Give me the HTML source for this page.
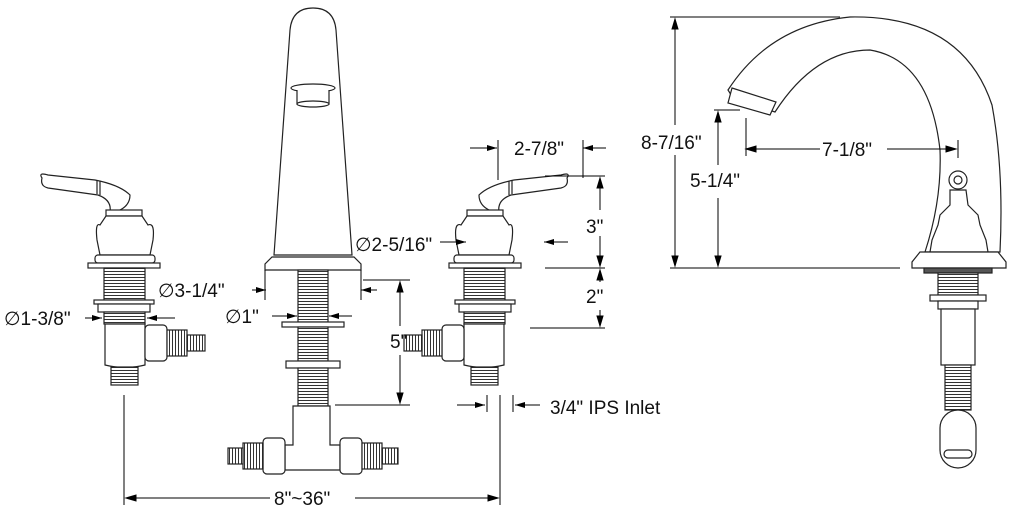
<!DOCTYPE html>
<html><head><style>
html,body{margin:0;padding:0;background:#fff;}
svg{display:block}
text{font-family:"Liberation Sans",sans-serif;font-size:19px;fill:#111}
</style></head><body>
<svg width="1019" height="527" viewBox="0 0 1019 527" xmlns="http://www.w3.org/2000/svg">
<defs>
<pattern id="th" width="4" height="3" patternUnits="userSpaceOnUse"><rect width="4" height="3" fill="#fff"/><line x1="0" y1="1.5" x2="4" y2="1.5" stroke="#333" stroke-width="1"/></pattern>
<pattern id="tv" width="3" height="4" patternUnits="userSpaceOnUse"><rect width="3" height="4" fill="#fff"/><line x1="1.5" y1="0" x2="1.5" y2="4" stroke="#333" stroke-width="1"/></pattern>
<marker id="a" markerWidth="10" markerHeight="6" refX="10" refY="3" orient="auto"><path d="M0,0 L10,3 L0,6z" fill="#000"/></marker>
</defs>
<g fill="#fff" stroke="#222" stroke-width="1.2">
<!-- LEFT VALVE -->
<path d="M42,178 Q38,172 48,175 L95,180 Q120,185 130,195 Q130,205 120,210 L110,212 Q112,200 98,195 L48,188 Q40,186 42,178z"/>
<line x1="97" y1="180" x2="97" y2="194"/><line x1="100" y1="181" x2="100" y2="195"/>
<rect x="106" y="210" width="36" height="6"/>
<path d="M100,225 Q95,222 97,240 L100,255 L150,255 L153,240 Q155,222 148,225 L142,216 L106,216z"/>
<rect x="95" y="255" width="60" height="8" rx="3"/>
<rect x="88" y="263" width="72" height="5"/>
<rect x="104" y="268" width="41" height="32" fill="url(#th)"/>
<rect x="94" y="300" width="60" height="4"/>
<rect x="98" y="304" width="52" height="8"/>
<rect x="104" y="312" width="41" height="12" fill="url(#th)"/>
<path d="M105,324 L145,324 L145,365 Q125,370 105,365z"/>
<rect x="111" y="367" width="27" height="18" fill="url(#th)"/>
<rect x="145" y="325" width="22" height="36" rx="4"/>
<rect x="167" y="330" width="20" height="26" fill="url(#tv)"/>
<rect x="187" y="335" width="18" height="16" fill="url(#tv)"/>
<!-- CENTER SPOUT -->
<path d="M290,30 Q292,8 313,8 Q334,8 336,30 L352,255 L274,255z"/>
<ellipse cx="313" cy="88" rx="22" ry="4"/>
<path d="M297,90 L297,104 Q313,109 329,104 L329,90"/>
<ellipse cx="313" cy="104" rx="16" ry="3"/>
<path d="M272,257 L354,257 L361,264 L361,270 L265,270 L265,264z"/>
<rect x="298" y="270" width="30" height="52" fill="url(#th)"/>
<rect x="282" y="322" width="62" height="5"/>
<rect x="298" y="327" width="30" height="34" fill="url(#th)"/>
<rect x="286" y="361" width="54" height="7"/>
<rect x="298" y="368" width="30" height="38" fill="url(#th)"/>
<path d="M293,406 L330,406 L330,445 L340,445 L340,470 L285,470 L285,445 L293,445z"/>
<rect x="263" y="438" width="22" height="36" rx="4"/>
<rect x="340" y="438" width="22" height="36" rx="4"/>
<rect x="243" y="443" width="20" height="26" fill="url(#tv)"/>
<rect x="228" y="448" width="15" height="16" fill="url(#tv)"/>
<rect x="362" y="443" width="20" height="26" fill="url(#tv)"/>
<rect x="382" y="448" width="16" height="16" fill="url(#tv)"/>
<!-- RIGHT VALVE (mirrored) -->
<g transform="translate(609,0) scale(-1,1)">
<path d="M42,178 Q38,172 48,175 L95,180 Q120,185 130,195 Q130,205 120,210 L110,212 Q112,200 98,195 L48,188 Q40,186 42,178z"/>
<line x1="97" y1="180" x2="97" y2="194"/><line x1="100" y1="181" x2="100" y2="195"/>
<rect x="106" y="210" width="36" height="6"/>
<path d="M100,225 Q95,222 97,240 L100,255 L150,255 L153,240 Q155,222 148,225 L142,216 L106,216z"/>
<rect x="95" y="255" width="60" height="8" rx="3"/>
<rect x="88" y="263" width="72" height="5"/>
<rect x="104" y="268" width="41" height="32" fill="url(#th)"/>
<rect x="94" y="300" width="60" height="4"/>
<rect x="98" y="304" width="52" height="8"/>
<rect x="104" y="312" width="41" height="12" fill="url(#th)"/>
<path d="M105,324 L145,324 L145,365 Q125,370 105,365z"/>
<rect x="111" y="367" width="27" height="18" fill="url(#th)"/>
<rect x="145" y="325" width="22" height="36" rx="4"/>
<rect x="167" y="330" width="20" height="26" fill="url(#tv)"/>
<rect x="187" y="335" width="18" height="16" fill="url(#tv)"/>
</g>
<!-- SIDE VIEW -->
<path d="M728,90 Q770,25 850,17 Q962,15 992,105 Q1004,170 1000,252 L925,252 Q942,200 940,150 Q930,60 870,50 Q815,50 775,112 L763,108 L733,98z"/>
<path d="M732,88 L776,102 L770,115 L728,103z"/>
<circle cx="958" cy="180" r="9"/><circle cx="958" cy="180" r="4"/>
<path d="M950,190 L966,190 L968,205 L978,215 L980,225 L986,240 L988,252 L930,252 L932,240 L938,225 L940,215 L950,205z"/>
<path d="M920,252 L998,252 L1006,262 L1006,268 L912,268 L912,262z"/>
<rect x="924" y="268" width="68" height="5" fill="#555"/>
<rect x="938" y="273" width="40" height="22" fill="url(#th)"/>
<rect x="930" y="295" width="56" height="6"/>
<rect x="938" y="301" width="40" height="8"/>
<rect x="941" y="309" width="34" height="56"/>
<rect x="945" y="365" width="26" height="45" fill="url(#th)"/>
<rect x="940" y="410" width="36" height="58" rx="18"/>
<rect x="944" y="450" width="28" height="8" rx="4"/>
</g>
<!-- dimension lines -->
<g stroke="#000" stroke-width="1" fill="none">
<line x1="124" y1="395" x2="124" y2="505"/><line x1="500" y1="395" x2="500" y2="505"/>
<path d="M126,498 l10,-3 v6z" fill="#000"/>
<line x1="126" y1="498" x2="270" y2="498"/><line x1="355" y1="498" x2="498" y2="498"/>
<path d="M498,498 l-10,-3 v6z" fill="#000"/>
<line x1="85" y1="318" x2="102" y2="318" marker-end="url(#a)"/>
<line x1="175" y1="318" x2="147" y2="318" marker-end="url(#a)"/>
<line x1="252" y1="290" x2="266" y2="290" marker-end="url(#a)"/>
<line x1="377" y1="290" x2="361" y2="290" marker-end="url(#a)"/>
<line x1="265" y1="270" x2="265" y2="300"/><line x1="361" y1="270" x2="361" y2="300"/>
<line x1="272" y1="316" x2="297" y2="316" marker-end="url(#a)"/>
<line x1="352" y1="316" x2="329" y2="316" marker-end="url(#a)"/>
<line x1="440" y1="242" x2="466" y2="242" marker-end="url(#a)"/>
<line x1="568" y1="242" x2="544" y2="242" marker-end="url(#a)"/>
<line x1="470" y1="148" x2="497" y2="148" marker-end="url(#a)"/>
<line x1="606" y1="148" x2="583" y2="148" marker-end="url(#a)"/>
<line x1="498" y1="140" x2="498" y2="180"/><line x1="583" y1="140" x2="583" y2="178"/>
<line x1="335" y1="405" x2="410" y2="405"/><line x1="363" y1="280" x2="410" y2="280"/>
<line x1="400" y1="282" x2="400" y2="326"/>
<path d="M400,282 l-3,10 h6z" fill="#000"/>
<line x1="400" y1="355" x2="400" y2="403"/>
<path d="M400,403 l-3,-10 h6z" fill="#000"/>
<line x1="545" y1="268" x2="605" y2="268"/><line x1="530" y1="328" x2="605" y2="328"/><line x1="545" y1="176" x2="605" y2="176"/>
<line x1="600" y1="178" x2="600" y2="210"/><path d="M600,178 l-3,10 h6z" fill="#000"/>
<line x1="600" y1="236" x2="600" y2="266"/><path d="M600,266 l-3,-10 h6z" fill="#000"/>
<line x1="600" y1="270" x2="600" y2="282"/><path d="M600,270 l-3,10 h6z" fill="#000"/>
<line x1="600" y1="310" x2="600" y2="326"/><path d="M600,326 l-3,-10 h6z" fill="#000"/>
<line x1="457" y1="405" x2="485" y2="405" marker-end="url(#a)"/>
<line x1="540" y1="405" x2="515" y2="405" marker-end="url(#a)"/>
<line x1="487" y1="395" x2="487" y2="412"/><line x1="513" y1="395" x2="513" y2="412"/>
<line x1="670" y1="17" x2="840" y2="17"/><line x1="670" y1="268" x2="900" y2="268"/>
<line x1="675" y1="19" x2="675" y2="125"/><path d="M675,19 l-3,10 h6z" fill="#000"/>
<line x1="675" y1="155" x2="675" y2="266"/><path d="M675,266 l-3,-10 h6z" fill="#000"/>
<line x1="714" y1="110" x2="740" y2="110"/>
<line x1="718" y1="112" x2="718" y2="165"/><path d="M718,112 l-3,10 h6z" fill="#000"/>
<line x1="718" y1="198" x2="718" y2="266"/><path d="M718,266 l-3,-10 h6z" fill="#000"/>
<line x1="746" y1="118" x2="746" y2="156"/><line x1="958" y1="140" x2="958" y2="158"/>
<line x1="746" y1="149" x2="820" y2="149"/><path d="M746,149 l10,-3 v6z" fill="#000"/>
<line x1="887" y1="149" x2="956" y2="149"/><path d="M956,149 l-10,-3 v6z" fill="#000"/>
</g>
<text x="4" y="325">∅1-3/8"</text>
<text x="158" y="297">∅3-1/4"</text>
<text x="225" y="323">∅1"</text>
<text x="355" y="251">∅2-5/16"</text>
<text x="514" y="155">2-7/8"</text>
<text x="586" y="233">3"</text>
<text x="586" y="303">2"</text>
<text x="390" y="348">5"</text>
<text x="550" y="414">3/4" IPS Inlet</text>
<text x="274" y="505">8"~36"</text>
<text x="641" y="149">8-7/16"</text>
<text x="690" y="187">5-1/4"</text>
<text x="822" y="156">7-1/8"</text>
</svg>
</body></html>
